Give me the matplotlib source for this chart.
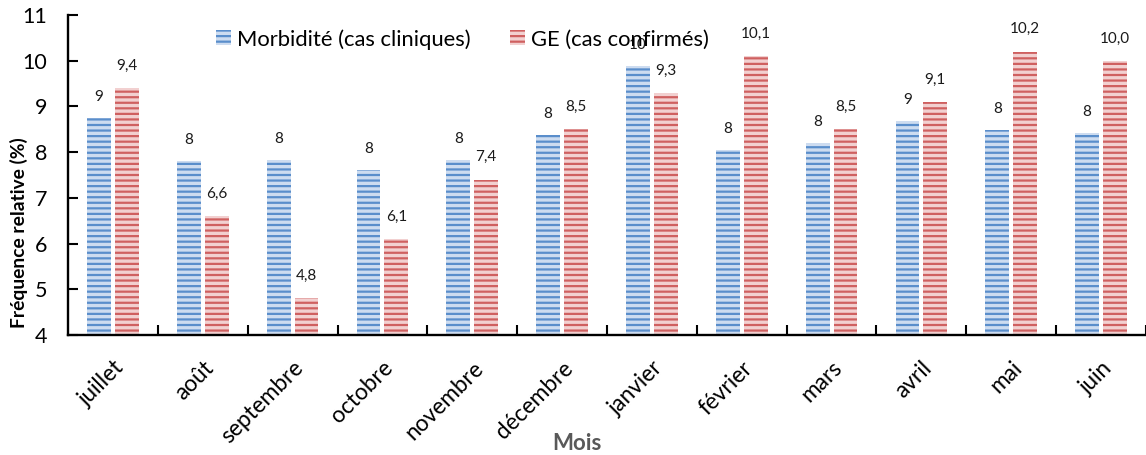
import matplotlib
matplotlib.use("Agg")
import matplotlib.pyplot as plt
from matplotlib.patches import Patch
import numpy as np

# Monthly relative frequency (%)
mois = ["juillet", "août", "septembre", "octobre", "novembre", "décembre",
        "janvier", "février", "mars", "avril", "mai", "juin"]
morbidite = [8.75, 7.81, 7.83, 7.61, 7.83, 8.38, 9.89, 8.05, 8.2, 8.68, 8.49, 8.42]
ge_confirmes = [9.4, 6.6, 4.8, 6.1, 7.4, 8.5, 9.3, 10.1, 8.5, 9.1, 10.2, 10.0]

serie_labels = ["Morbidité (cas cliniques)", "GE (cas confirmés)"]

plt.rcParams["font.family"] = ["Lato", "DejaVu Sans"]
plt.rcParams["hatch.linewidth"] = 1.6

blue_dark, blue_light = "#5a8ecb", "#cddcf0"
red_dark, red_light = "#cf6060", "#f2d0d0"

W, H = 1146, 455
fig = plt.figure(figsize=(W / 100, H / 100), dpi=100)
ax = fig.add_axes([68 / W, 1 - 335 / H, 1 - 68 / W, 320 / H])

x = np.arange(len(mois))
w = 0.265
off = 0.155

ax.bar(x - off, [v - 4 for v in morbidite], bottom=4, width=w,
       facecolor=blue_light, edgecolor=blue_dark, hatch="---", linewidth=0)
ax.bar(x + off, [v - 4 for v in ge_confirmes], bottom=4, width=w,
       facecolor=red_light, edgecolor=red_dark, hatch="---", linewidth=0)

for xi, v in zip(x, morbidite):
    ax.annotate(f"{v:.0f}", (xi - off, v), xytext=(0, 15), textcoords="offset points",
                ha="center", va="center", fontsize=11, color="#1a1a1a")
for xi, v in zip(x, ge_confirmes):
    ax.annotate(f"{v:.1f}".replace(".", ","), (xi + off, v), xytext=(0, 16),
                textcoords="offset points", ha="center", va="center",
                fontsize=11, color="#1a1a1a")

ax.set_xlim(-0.5, len(mois) - 0.5)
ax.set_ylim(4, 11)
ax.set_yticks(range(4, 12))
ax.tick_params(axis="y", direction="in", length=7, width=1.5, labelsize=15.5, pad=15)

ax.set_xticks(x)
ax.set_xticklabels(mois, rotation=45, ha="right", rotation_mode="anchor", fontsize=16.3)
ax.tick_params(axis="x", which="major", length=0, pad=16)
ax.set_xticks(np.arange(len(mois)) + 0.5, minor=True)
ax.tick_params(axis="x", which="minor", direction="in", length=7, width=1.5)

for s in ("top", "right"):
    ax.spines[s].set_visible(False)
for s in ("left", "bottom"):
    ax.spines[s].set_linewidth(1.7)

fig.text(19 / W, 1 - 233 / H, "Fréquence relative (%)", rotation=90,
         ha="center", va="center", fontsize=13.9, fontweight="bold")
fig.text(577 / W, 1 - 443 / H, "Mois", ha="center", va="center",
         fontsize=16, fontweight="bold", color="#595959")

handles = [Patch(facecolor=blue_light, edgecolor=blue_dark, hatch="---", linewidth=0),
           Patch(facecolor=red_light, edgecolor=red_dark, hatch="---", linewidth=0)]
ax.legend(handles, serie_labels, loc="upper left", bbox_to_anchor=(216 / W, 1 - 29 / H),
          bbox_transform=fig.transFigure, ncol=2, frameon=False, fontsize=15.8,
          handlelength=0.68, handleheight=0.68, handletextpad=0.27, columnspacing=1.8,
          borderaxespad=0, borderpad=0)

fig.savefig("out.png", dpi=100)
